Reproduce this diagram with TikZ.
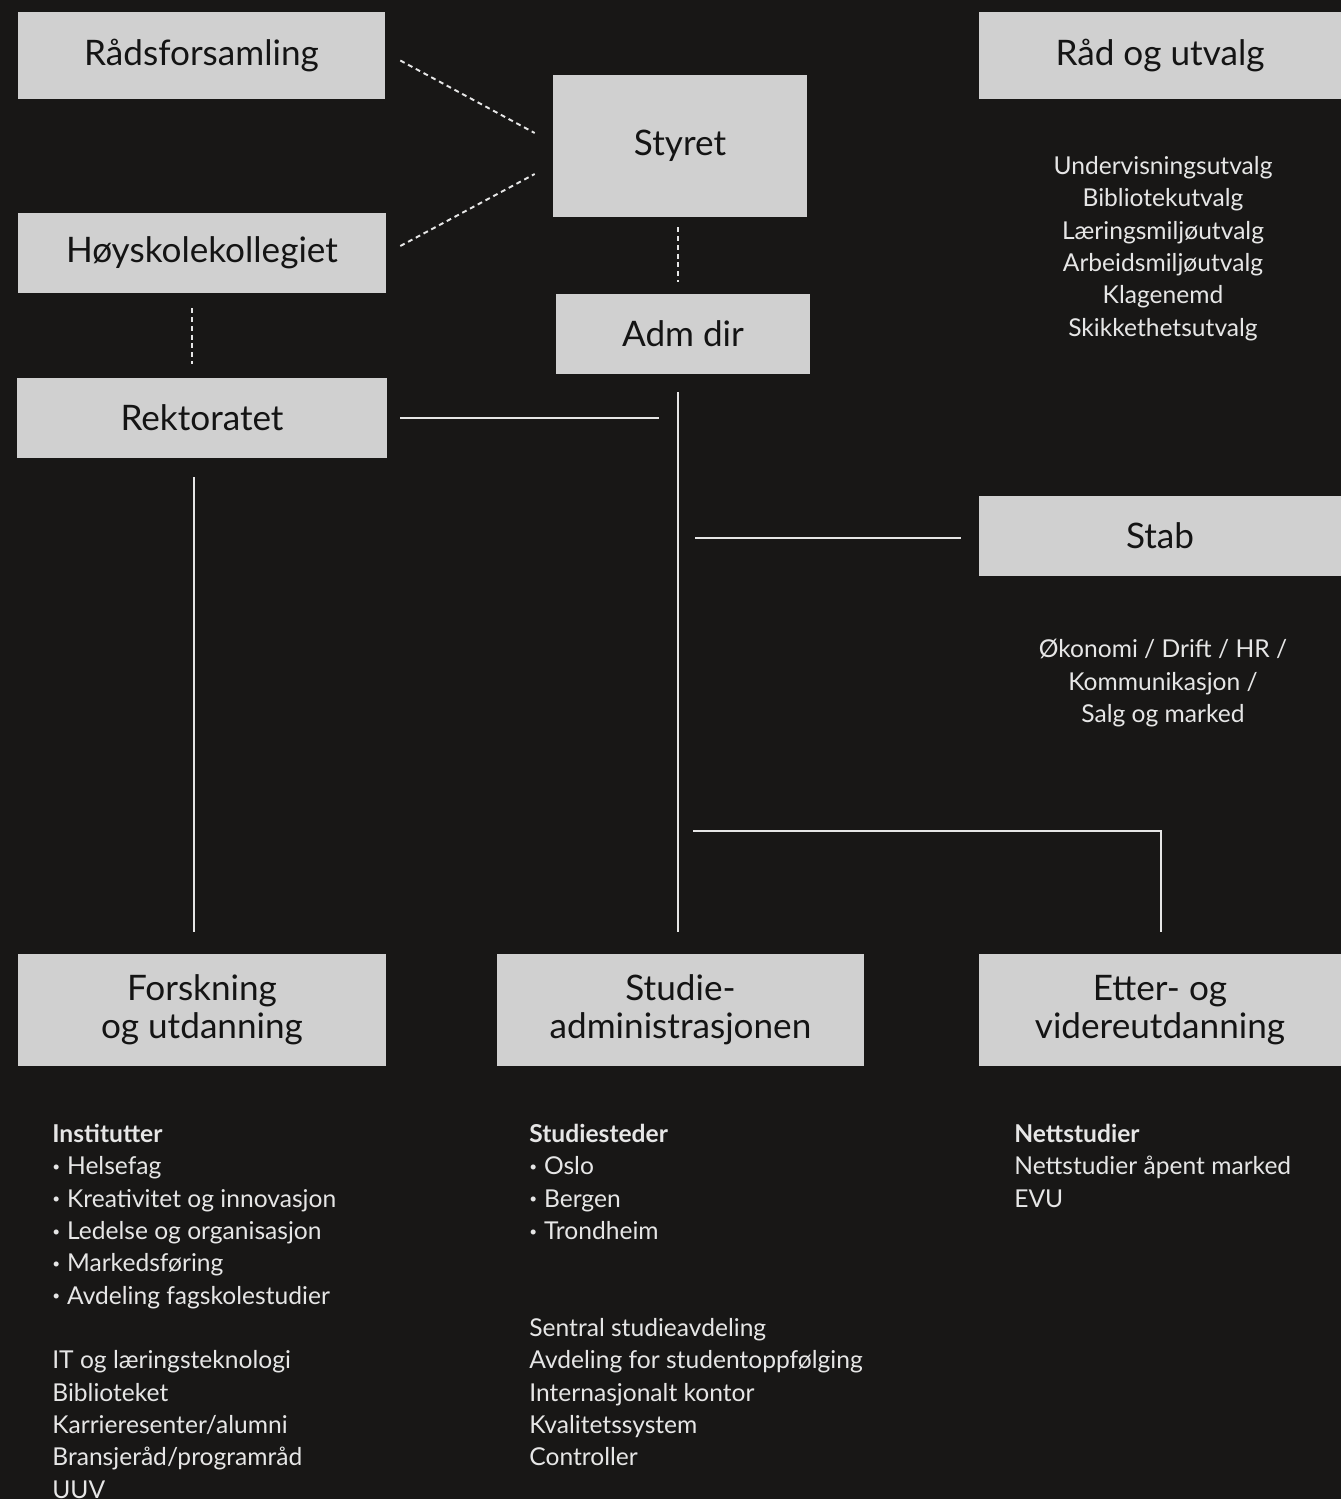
\documentclass[tikz,border=0pt]{standalone}
\usepackage{fontspec}
\setmainfont{Lato}
\usetikzlibrary{calc}
\definecolor{bgdark}{HTML}{181716}
\definecolor{boxgray}{HTML}{D0D0D0}
\definecolor{inkdark}{HTML}{141414}
\definecolor{listwhite}{HTML}{E6E6E6}
\newcommand{\listdot}{\raisebox{0.14em}{\scalebox{0.55}{•}}\hspace{0.28em}}

\begin{document}
\begin{tikzpicture}[x=0.02cm, y=-0.02cm,
    box/.style={fill=boxgray, text=inkdark, align=center, inner sep=0pt, font=\fontsize{20}{21.6}\selectfont},
    sublist/.style={text=listwhite, inner sep=0pt, font=\fontsize{14}{18.4}\selectfont},
    link/.style={draw=listwhite, line width=1.1pt},
    dashlink/.style={link, dash pattern=on 2.8pt off 2.2pt}]
    \useasboundingbox (0,0) rectangle (1341,1499);
    \fill[bgdark] (0,0) rectangle (1341,1499);

    \node[box, minimum width=7.34cm, minimum height=1.74cm] (raad) at (201.5,55.5) {Rådsforsamling};
    \node[box, minimum width=7.36cm, minimum height=1.6cm] (kolleg) at (202,253) {Høyskolekollegiet};
    \node[box, minimum width=7.4cm, minimum height=1.6cm] (rekt) at (202,418) {Rektoratet};
    \node[box, minimum width=5.08cm, minimum height=2.84cm] (styret) at (680,146) {Styret};
    \node[box, minimum width=5.08cm, minimum height=1.6cm] (adm) at (683,334) {Adm dir};
    \node[box, minimum width=7.24cm, minimum height=1.74cm] (utvalg) at (1160,55.5) {Råd og utvalg};
    \node[box, minimum width=7.24cm, minimum height=1.6cm] (stab) at (1160,536) {Stab};
    \node[box, minimum width=7.36cm, minimum height=2.24cm] (forsk) at (202,1010) {Forskning\\og utdanning};
    \node[box, minimum width=7.34cm, minimum height=2.24cm] (studadm) at (680.5,1010) {Studie-\\administrasjonen};
    \node[box, minimum width=7.24cm, minimum height=2.24cm] (evu) at (1160,1010) {Etter- og\\videreutdanning};

    \node[sublist, anchor=north, align=center] (utvalgliste) at (1163,156) {Undervisningsutvalg\\Bibliotekutvalg\\Læringsmiljøutvalg\\Arbeidsmiljøutvalg\\Klagenemd\\Skikkethetsutvalg};
    \node[sublist, anchor=north, align=center] (stabliste) at (1163,639) {Økonomi / Drift / HR /\\Kommunikasjon /\\Salg og marked};
    \node[sublist, anchor=north west, align=left] (forskliste) at (52,1124) {\textbf{Institutter}\\\listdot Helsefag\\\listdot Kreativitet og innovasjon\\\listdot Ledelse og organisasjon\\\listdot Markedsføring\\\listdot Avdeling fagskolestudier\\[18.4pt]IT og læringsteknologi\\Biblioteket\\Karrieresenter/alumni\\Bransjeråd/programråd\\UUV};
    \node[sublist, anchor=north west, align=left] (studliste) at (529,1124) {\textbf{Studiesteder}\\\listdot Oslo\\\listdot Bergen\\\listdot Trondheim\\[36.8pt]Sentral studieavdeling\\Avdeling for studentoppfølging\\Internasjonalt kontor\\Kvalitetssystem\\Controller};
    \node[sublist, anchor=north west, align=left] (evuliste) at (1014,1124) {\textbf{Nettstudier}\\Nettstudier åpent marked\\EVU};

    \coordinate (trunktop) at ($(adm.south)+(-5,18)$);
    \coordinate (trunkfoot) at ($(studadm.north)+(-2.5,-22)$);
    \coordinate (fork) at (693,831);

    \draw[dashlink] ($(raad.east)+(15,5)$) -- ($(styret.west)+(-18,-13)$);
    \draw[dashlink] ($(kolleg.east)+(14,-7)$) -- ($(styret.west)+(-18,28)$);
    \draw[dashlink] ($(styret.south)+(-2,10)$) -- ($(adm.north)+(-5,-12)$);
    \draw[dashlink] ($(kolleg.south)+(-10,15)$) -- ($(rekt.north)+(-10,-14)$);
    \draw[link] (trunktop) -- (trunkfoot);
    \draw[link] ($(rekt.east)+(13,0)$) -- ($(rekt.east -| trunktop)+(-19,0)$);
    \draw[link] ($(rekt.south)+(-8,19)$) -- ($(forsk.north)+(-8,-22)$);
    \draw[link] ($(stab.west -| trunktop)+(17,2)$) -- ($(stab.west)+(-18,2)$);
    \draw[link] (fork) -| ($(evu.north)+(1,-22)$);
\end{tikzpicture}
\end{document}
